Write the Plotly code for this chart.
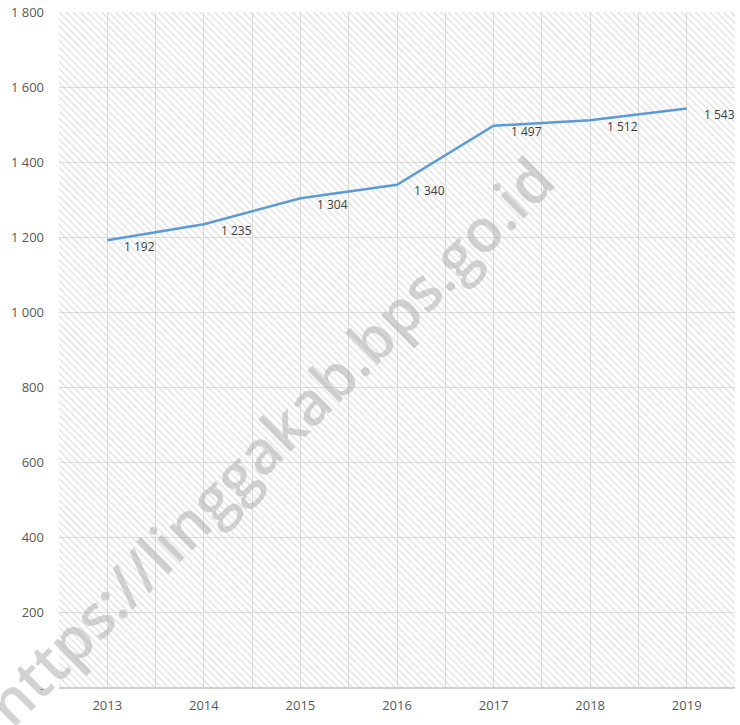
import plotly.graph_objects as go

years = [2013, 2014, 2015, 2016, 2017, 2018, 2019]
values = [1192, 1235, 1304, 1340, 1497, 1512, 1543]
y_ticks = [0, 200, 400, 600, 800, 1000, 1200, 1400, 1600, 1800]


def fmt(v):
    # Excel-style: space as thousands separator, zero shown as "-"
    return "-" if v == 0 else f"{v:,}".replace(",", " ")


fig = go.Figure()

# hatched plot background
fig.add_trace(go.Scatter(
    x=[years[0] - 0.5, years[-1] + 0.5], y=[y_ticks[-1], y_ticks[-1]],
    fill="tozeroy", mode="none", fillcolor="rgba(0,0,0,0)",
    fillpattern=dict(shape="\\", fgcolor="#c8c8c8", bgcolor="rgba(0,0,0,0)",
                     size=5, solidity=0.3),
    hoverinfo="skip", showlegend=False,
))

fig.add_trace(go.Scatter(
    x=years, y=values, mode="lines",
    line=dict(color="#5B9BD5", width=2.5),
    showlegend=False,
))

for x, v in zip(years, values):
    fig.add_annotation(
        x=x, y=v, text=fmt(v), showarrow=False,
        xanchor="left", yanchor="middle", xshift=15, yshift=-6,
        font=dict(family="Open Sans", size=12, color="#404040"),
    )

fig.add_annotation(
    xref="paper", yref="paper", x=0.31, y=0.366,
    xanchor="center", yanchor="middle",
    text="https://linggakab.bps.go.id", showarrow=False, textangle=-45,
    font=dict(family="Open Sans", size=60, weight=600,
              color="rgba(175,175,175,0.55)"),
)

fig.update_layout(
    width=740, height=725,
    margin=dict(l=59, r=5, t=12, b=37),
    plot_bgcolor="white", paper_bgcolor="white",
    font=dict(family="Open Sans", size=13, color="#595959"),
)
fig.update_xaxes(
    range=[years[0] - 0.5, years[-1] + 0.5],
    tickvals=years, ticktext=[str(y) for y in years],
    showgrid=True, gridcolor="#dedede", gridwidth=1,
    minor=dict(dtick=0.5, tick0=years[0] - 0.5, showgrid=True,
               gridcolor="#dedede", gridwidth=1),
    showline=False, zeroline=False, ticks="", ticklabelstandoff=8,
    automargin=False,
)
fig.update_yaxes(
    range=[0, y_ticks[-1]],
    tickvals=y_ticks, ticktext=[fmt(v) for v in y_ticks],
    showgrid=True, gridcolor="#dedede", gridwidth=1,
    showline=False, zeroline=True, zerolinecolor="#d0d0d0",
    ticks="", ticklabelstandoff=14, automargin=False,
    ticklabeloverflow="allow",
)

# drop the default 8px page margin so the figure fills the window exactly
fig.write_html("out.html", config={"displayModeBar": False},
               post_script="document.body.style.margin='0';")
